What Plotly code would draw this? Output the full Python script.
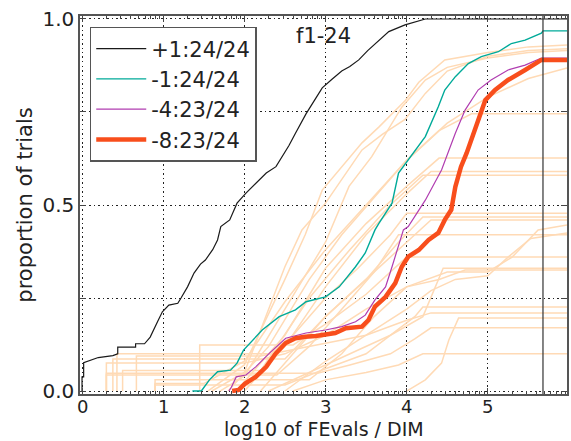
import plotly.graph_objects as go
import math

# ---------------- data ----------------
black_x = [0, 0, 0.02, 0.02, 0.2, 0.38, 0.44, 0.44, 0.66, 0.66, 0.77, 0.84, 0.93, 0.99, 1.07, 1.18, 1.22, 1.3, 1.38, 1.46, 1.52, 1.58, 1.61, 1.67, 1.71, 1.82, 1.91, 2.02, 2.15, 2.27, 2.39, 2.47, 2.55, 2.63, 2.76, 2.86, 2.96, 3.08, 3.2, 3.3, 3.41, 3.52, 3.62, 3.78, 3.98, 4.15, 4.23, 5.976]
black_y = [0, 0.038, 0.038, 0.076, 0.09, 0.095, 0.1, 0.118, 0.118, 0.127, 0.127, 0.145, 0.186, 0.213, 0.231, 0.236, 0.25, 0.28, 0.317, 0.341, 0.352, 0.371, 0.38, 0.406, 0.442, 0.46, 0.505, 0.532, 0.56, 0.586, 0.603, 0.63, 0.66, 0.693, 0.745, 0.78, 0.815, 0.838, 0.86, 0.872, 0.89, 0.915, 0.935, 0.966, 0.984, 0.995, 1.0, 1.0]

teal_x = [1.36, 1.47, 1.57, 1.67, 1.83, 1.91, 1.99, 2.03, 2.22, 2.43, 2.63, 2.76, 3.0, 3.17, 3.37, 3.49, 3.61, 3.66, 3.82, 3.9, 4.02, 4.23, 4.39, 4.47, 4.6, 4.76, 4.92, 5.13, 5.29, 5.46, 5.66, 5.68, 5.976]
teal_y = [0, 0, 0.03, 0.052, 0.056, 0.075, 0.11, 0.119, 0.164, 0.2, 0.218, 0.24, 0.253, 0.28, 0.334, 0.371, 0.433, 0.451, 0.505, 0.586, 0.621, 0.684, 0.764, 0.809, 0.845, 0.88, 0.899, 0.912, 0.934, 0.943, 0.962, 0.968, 0.968]

purple_x = [1.81, 1.84, 1.9, 2.02, 2.14, 2.31, 2.51, 2.76, 3.0, 3.2, 3.37, 3.49, 3.61, 3.74, 3.82, 3.9, 3.96, 4.02, 4.23, 4.43, 4.6, 4.72, 4.88, 5.04, 5.25, 5.46, 5.66, 5.976]
purple_y = [0, 0.01, 0.038, 0.043, 0.065, 0.102, 0.142, 0.156, 0.164, 0.173, 0.186, 0.204, 0.245, 0.28, 0.334, 0.388, 0.433, 0.442, 0.513, 0.594, 0.693, 0.755, 0.809, 0.836, 0.863, 0.876, 0.895, 0.895]

orange_x = [1.85, 1.93, 2.01, 2.14, 2.27, 2.39, 2.51, 2.63, 2.75, 2.88, 3.12, 3.25, 3.45, 3.53, 3.61, 3.74, 3.86, 3.94, 4.02, 4.15, 4.27, 4.39, 4.47, 4.55, 4.6, 4.67, 4.74, 4.8, 4.88, 4.97, 5.09, 5.25, 5.46, 5.66, 5.976]
orange_y = [0, 0.003, 0.02, 0.038, 0.065, 0.102, 0.129, 0.142, 0.146, 0.148, 0.156, 0.169, 0.173, 0.191, 0.227, 0.253, 0.29, 0.334, 0.361, 0.379, 0.406, 0.425, 0.46, 0.487, 0.549, 0.603, 0.64, 0.675, 0.728, 0.782, 0.809, 0.836, 0.863, 0.89, 0.89]

legend_names = ["+1:24/24", "-1:24/24", "-4:23/24", "-8:23/24"]

# background (other algorithms) curves: (x list, y list)
bg_curves = [
    ([1.55, 2.0, 2.5, 2.75, 2.96, 3.45, 3.66, 3.98, 4.15, 4.47, 5.0, 5.5, 5.976],
     [0, 0.07, 0.3, 0.42, 0.54, 0.667, 0.71, 0.78, 0.83, 0.89, 0.91, 0.925, 0.93]),
    ([1.6, 2.0, 2.5, 2.71, 3.0, 3.45, 3.7, 3.98, 4.23, 4.5, 5.0, 5.5, 5.976],
     [0, 0.05, 0.334, 0.433, 0.505, 0.648, 0.69, 0.73, 0.8, 0.86, 0.9, 0.915, 0.92]),
    ([1.7, 2.0, 2.5, 3.0, 3.29, 3.57, 3.94, 4.23, 4.5, 5.0, 5.5, 5.976],
     [0, 0.04, 0.22, 0.4, 0.55, 0.63, 0.763, 0.836, 0.87, 0.895, 0.91, 0.915]),
    ([0.9, 0.9, 1.5, 2.0, 2.5, 3.0, 3.5, 4.0, 4.5, 5.0, 5.5, 5.976],
     [0, 0.02, 0.02, 0.08, 0.24, 0.38, 0.5, 0.62, 0.72, 0.79, 0.84, 0.868]),
    ([1.8, 2.3, 2.8, 3.2, 3.6, 4.0, 4.4, 4.8, 5.976],
     [0, 0.12, 0.3, 0.42, 0.52, 0.62, 0.7, 0.745, 0.745]),
    ([1.9, 2.5, 3.0, 3.5, 4.0, 4.4, 5.976],
     [0, 0.15, 0.33, 0.45, 0.55, 0.626, 0.626]),
    ([2.0, 2.5, 3.0, 3.5, 4.0, 4.3, 5.976],
     [0, 0.12, 0.28, 0.42, 0.53, 0.59, 0.59]),
    ([0.5, 0.5, 2.2, 2.8, 3.3, 3.8, 4.2, 5.976],
     [0, 0.055, 0.055, 0.25, 0.38, 0.5, 0.58, 0.58]),
    ([0.43, 0.43, 2.3, 2.6, 3.0, 3.4, 3.8, 4.0, 5.976],
     [0, 0.1, 0.1, 0.15, 0.25, 0.33, 0.42, 0.478, 0.478]),
    ([0.38, 0.38, 2.5, 3.0, 3.5, 3.9, 4.2, 5.976],
     [0, 0.086, 0.086, 0.2, 0.3, 0.4, 0.468, 0.468]),
    ([2.2, 2.6, 3.0, 3.5, 4.0, 4.3, 5.976],
     [0, 0.1, 0.2, 0.3, 0.4, 0.46, 0.46]),
    ([0.9, 0.9, 2.8, 3.2, 3.6, 4.0, 4.5, 5.0, 5.3, 5.62, 5.976],
     [0, 0.03, 0.03, 0.1, 0.2, 0.28, 0.32, 0.32, 0.36, 0.433, 0.446]),
    ([2.5, 3.0, 3.5, 4.0, 4.3, 4.6, 5.0, 5.25, 5.53, 5.976],
     [0, 0.08, 0.15, 0.22, 0.27, 0.3, 0.31, 0.36, 0.41, 0.425]),
    ([0.3, 0.3, 2.4, 2.8, 3.2, 3.6, 3.9, 5.976],
     [0, 0.043, 0.043, 0.12, 0.22, 0.32, 0.42, 0.42]),
    ([1.45, 1.45, 2.6, 3.0, 3.5, 3.9, 4.0, 5.976],
     [0, 0.124, 0.124, 0.18, 0.26, 0.34, 0.36, 0.36]),
    ([2.3, 2.8, 3.3, 3.8, 4.2, 4.35, 4.45, 5.976],
     [0, 0.05, 0.1, 0.15, 0.2, 0.28, 0.33, 0.33]),
    ([0.3, 0.3, 2.0, 2.5, 3.0, 3.5, 4.0, 4.4, 4.72, 5.976],
     [0, 0.075, 0.075, 0.1, 0.15, 0.22, 0.28, 0.3, 0.325, 0.325]),
    ([0.9, 0.9, 2.5, 3.0, 3.5, 3.8, 4.1, 4.2, 5.976],
     [0, 0.016, 0.016, 0.06, 0.1, 0.15, 0.2, 0.226, 0.226]),
    ([0.67, 0.67, 2.2, 2.8, 3.5, 4.0, 4.3, 5.976],
     [0, 0.094, 0.094, 0.12, 0.15, 0.19, 0.21, 0.21]),
    ([4.0, 4.23, 4.43, 4.52, 4.64, 5.976],
     [0, 0.03, 0.075, 0.137, 0.196, 0.196]),
    ([0.3, 0.3, 2.9, 3.3, 3.8, 4.1, 4.3, 5.976],
     [0, 0.048, 0.048, 0.07, 0.1, 0.14, 0.17, 0.17]),
    ([2.6, 3.0, 3.5, 3.9, 4.2, 5.976],
     [0, 0.03, 0.05, 0.07, 0.1, 0.1]),
]

x_major = [0, 1, 2, 3, 4, 5]
x_ticktext = ["0", "1", "2", "3", "4", "5"]
y_ticks = [0, 0.25, 0.5, 0.75, 1.0]
y_ticktext = ["0.0", "", "0.5", "", "1.0"]
vline_x = 5.68

# ---------------- figure ----------------
fig = go.Figure()
BG = "#ffdab5"
for bx, by in bg_curves:
    fig.add_trace(go.Scatter(x=bx, y=by, mode="lines", line=dict(color=BG, width=1.5),
                             showlegend=False, hoverinfo="skip"))

main = [
    (black_x, black_y, "#1a1a1a", 1.2),
    (teal_x, teal_y, "#00aa99", 1.4),
    (purple_x, purple_y, "#b03cb0", 1.2),
    (orange_x, orange_y, "#f84e1c", 4.5),
]
for i, (mx, my, c, w) in enumerate(main):
    fig.add_trace(go.Scatter(x=mx, y=my, mode="lines", line=dict(color=c, width=w),
                             name=legend_names[i]))

fig.add_shape(type="line", x0=vline_x, x1=vline_x, y0=0, y1=1, xref="x", yref="paper",
              line=dict(color="#333333", width=1.2))

fig.add_annotation(x=0.499, y=0.985, xref="paper", yref="paper", text="f1-24",
                   showarrow=False, xanchor="center", yanchor="top",
                   font=dict(size=21, color="#222222"))

# x tick labels placed close to the axis (positions via the x scale)
for xv, xt in zip(x_major, x_ticktext):
    fig.add_annotation(x=xv, y=0, xref="x", yref="paper", text=xt, showarrow=False,
                       xanchor="center", yanchor="top", yshift=-1, borderpad=0,
                       font=dict(size=18, color="#222222"))

# x-axis title
fig.add_annotation(x=0.5, y=0, xref="paper", yref="paper", text="log10 of FEvals / DIM",
                   showarrow=False, xanchor="center", yanchor="bottom", yshift=-47,
                   borderpad=0, font=dict(size=19, color="#222222"))

minor_vals = []
for k in range(-1, 6):
    for m in range(2, 10):
        v = k + math.log10(m)
        if -0.025 <= v <= 5.976:
            minor_vals.append(v)

DOT = "1.5px,3px"
fig.update_layout(
    width=571, height=441,
    margin=dict(l=80, r=2, t=16, b=47),
    paper_bgcolor="white", plot_bgcolor="white",
    font=dict(family="DejaVu Sans", size=20, color="#222222"),
    showlegend=True,
    legend=dict(x=0.02, y=0.971, xanchor="left", yanchor="top",
                bgcolor="white", bordercolor="#555555", borderwidth=1.5,
                font=dict(size=21), tracegroupgap=0, itemwidth=50),
    xaxis=dict(range=[-0.025, 5.976], tickvals=x_major, showticklabels=False,
               showgrid=True, gridcolor="#222222", griddash=DOT, gridwidth=1,
               ticks="inside", ticklen=6, tickcolor="#444444", mirror="ticks",
               showline=True, linecolor="#555555", linewidth=1.5, zeroline=False,
               minor=dict(tickvals=minor_vals, ticks="inside", ticklen=3, tickcolor="#444444", showgrid=False)),
    yaxis=dict(range=[-0.008, 1.008], tickvals=y_ticks, ticktext=y_ticktext,
               showgrid=True, gridcolor="#222222", griddash=DOT, gridwidth=1,
               ticks="inside", ticklen=6, tickcolor="#444444", mirror="ticks",
               showline=True, linecolor="#555555", linewidth=1.5, zeroline=False,
               title=dict(text="proportion of trials", font=dict(size=21), standoff=4),
               tickfont=dict(size=20)),
)

fig.write_html("out.html")
